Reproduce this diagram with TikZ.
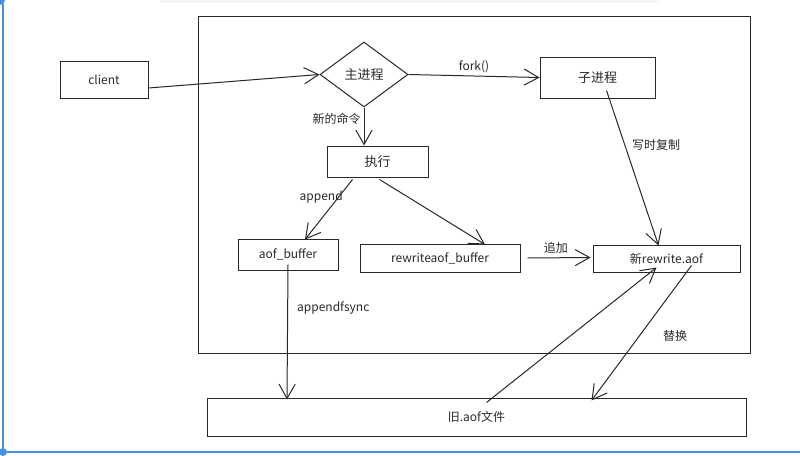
\documentclass[tikz,border=0pt]{standalone}
\usepackage{fontspec}
\setmainfont{Noto Sans CJK SC}
\usetikzlibrary{arrows.meta,shapes.geometric}
\definecolor{pageblue}{RGB}{74,144,226}
\definecolor{ink}{RGB}{40,40,40}
\begin{document}
\begin{tikzpicture}[x=1pt,y=-1pt,
  line/.style={draw=ink,line width=1pt},
  box/.style={line,rectangle,inner sep=0pt,text=ink,font=\fontsize{12}{14}\selectfont},
  arr/.style={line,-{Straight Barb[length=8pt,width=9pt,line width=1pt,scale=1.8]}},
  lbl/.style={font=\fontsize{12}{14}\selectfont,text=ink,inner sep=1pt},
  blueline/.style={draw=pageblue,line width=1.2pt}]
\useasboundingbox (0,0) rectangle (800,455);
% page decorations
\fill[black!4] (160,0) rectangle (660,3);
\draw[blueline] (3,4) -- (3,452) -- (800,452);
\fill[pageblue] (0,0) circle (5);
\fill[pageblue] (3,452) circle (4);
% frame
\draw[line] (198,16) rectangle (750,353);
% nodes
\node[box,minimum width=88,minimum height=37] (client) at (104,79.5) {client};
\node[line,diamond,aspect=1.35,minimum width=88,minimum height=65,inner sep=0pt,text=ink,font=\fontsize{13}{15}\selectfont] (main) at (364,74.5) {主进程};
\node[box,minimum width=115,minimum height=41,font=\fontsize{13}{15}\selectfont] (child) at (597.5,77.5) {子进程};
\node[box,minimum width=101,minimum height=31,font=\fontsize{13}{15}\selectfont] (exec) at (377.5,161.5) {执行};
\node[box,minimum width=100,minimum height=31] (aofbuf) at (288,254.5) {aof\_buffer};
\node[box,minimum width=160,minimum height=28] (rwbuf) at (440,258) {rewriteaof\_buffer};
\node[box,minimum width=147,minimum height=27] (newaof) at (666.5,258.5) {新rewrite.aof};
\node[box,minimum width=539,minimum height=38] (old) at (476.5,417) {旧.aof文件};
% connectors
\draw[arr] (client.east |- 0,88) -- (main.west);
\draw[arr] (main.east) -- node[lbl,above=2pt]{fork()} (child.west);
\draw[arr] (main.south) -- node[lbl,left=2pt,pos=0.3]{新的命令} (exec.north -| main.south);
\draw[arr] ([xshift=-25pt,yshift=-2pt]exec.south) -- node[lbl,left=-6pt,pos=0.3]{append} ([xshift=17pt,yshift=-1pt]aofbuf.north);
\draw[arr] ([xshift=2pt,yshift=-2pt]exec.south) -- ([xshift=45pt,yshift=-1pt]rwbuf.north);
\draw[arr] ([xshift=9pt,yshift=8pt]child.south) -- node[lbl,right=6pt,pos=0.35]{写时复制} ([xshift=-8pt,yshift=-1pt]newaof.north);
\draw[arr] ([xshift=7pt]rwbuf.east) -- node[lbl,above=3pt,pos=0.45]{追加} ([xshift=-2pt,yshift=1pt]newaof.west);
\draw[arr] ([yshift=6pt]aofbuf.south) -- node[lbl,right=8pt,pos=0.32]{appendfsync} ([xshift=-1pt,yshift=-2pt]old.north -| aofbuf.south);
\draw[arr] ([xshift=10pt,yshift=-5pt]old.north) -- ([xshift=-10pt,yshift=5pt]newaof.south);
\draw[arr] ([xshift=25pt,yshift=7pt]newaof.south) -- node[lbl,right=22pt,pos=0.52]{替换} ([xshift=115pt,yshift=-3pt]old.north);
\end{tikzpicture}
\end{document}
